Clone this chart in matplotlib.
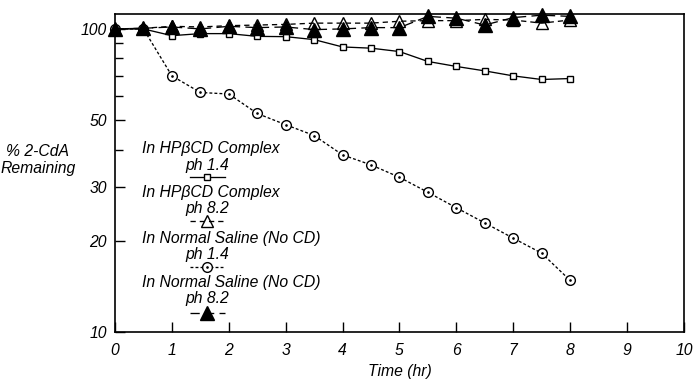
import matplotlib
matplotlib.use('Agg')
import matplotlib.pyplot as plt
from matplotlib.lines import Line2D
from matplotlib.ticker import FixedLocator, NullFormatter, FixedFormatter

plt.rcParams['font.family'] = ['Liberation Sans', 'DejaVu Sans']
plt.rcParams['font.style'] = 'italic'
plt.rcParams['font.size'] = 11.3

# data (time in hr, % 2-CdA remaining)
hours = [0, 0.5, 1, 1.5, 2, 2.5, 3, 3.5, 4, 4.5, 5, 5.5, 6, 6.5, 7, 7.5, 8]
cd_ph14 = [100, 100, 95, 96.5, 96.5, 94.5, 94.3, 92.2, 87.2, 86.4, 84.2, 78.1, 75.2, 72.7, 70.0, 68.1, 68.6]
cd_ph82 = [100, 100.5, 102, 101.5, 102.5, 103, 103.5, 104.5, 104.5, 104.5, 106, 106.5, 106.5, 107.5, 107, 104.5, 107]
saline_ph14 = [100, 100, 70, 61.7, 61, 52.6, 48.3, 44.5, 38.4, 35.6, 32.4, 28.9, 25.7, 22.9, 20.4, 18.2, 14.8]
saline_ph82 = [100, 100.5, 101.5, 100, 102, 101, 101.5, 99.5, 100, 101, 101, 110, 108.5, 103, 109, 111, 110]

labels = [
    ("In HP\u03b2CD Complex", "ph 1.4"),
    ("In HP\u03b2CD Complex", "ph 8.2"),
    ("In Normal Saline (No CD)", "ph 1.4"),
    ("In Normal Saline (No CD)", "ph 8.2"),
]
yticks_major = [10, 20, 30, 50, 100]
yticks_minor = [40, 60, 70, 80, 90]

styles = [
    dict(ls='-', marker='s', ms=5, mfc='white', mec='black', zorder=2),
    dict(ls=(0, (4, 3)), marker='^', ms=8.5, mfc='none', mec='black', zorder=4),
    dict(ls=(0, (2.2, 1.6)), marker='o', ms=7, mfc='white', mec='black', zorder=2.5),
    dict(ls=(0, (7, 4)), marker='^', ms=9.5, mfc='black', mec='black', zorder=3),
]
series = [cd_ph14, cd_ph82, saline_ph14, saline_ph82]

fig = plt.figure(figsize=(7, 3.87), dpi=100)
ax = fig.add_axes([0.1643, 0.1421, 0.8127, 0.8217])

for vals, st in zip(series, styles):
    ax.plot(hours, vals, color='black', lw=0.95, mew=1.0, clip_on=False, **st)
# centre dots of the circle markers
ax.plot(hours[2:], saline_ph14[2:], ls='none', marker='.', ms=1.8, color='black', zorder=2.6)

ax.set_yscale('log')
ax.set_ylim(10, 112)
ax.set_xlim(0, 10)
ax.yaxis.set_major_locator(FixedLocator(yticks_major))
ax.yaxis.set_major_formatter(FixedFormatter([str(v) for v in yticks_major]))
ax.yaxis.set_minor_locator(FixedLocator(yticks_minor))
ax.yaxis.set_minor_formatter(NullFormatter())
ax.set_xticks(range(0, 11))

ax.tick_params(which='both', direction='in', top=False, right=False, width=1.0)
ax.tick_params(axis='x', which='major', length=7, pad=8)
ax.tick_params(axis='y', which='major', length=7, pad=6)
ax.tick_params(axis='y', which='minor', length=6)
for s in ax.spines.values():
    s.set_linewidth(1.2)

ax.set_xlabel("Time (hr)", labelpad=4)
fig.text(38 / 700, 1 - 160 / 387, "% 2-CdA\nRemaining", ha='center', va='center',
         multialignment='center')

# custom legend: text above each key
blocks = [(148, 165, 177), (192.7, 208, 220.7), (238, 254, 267), (282.7, 298, 313)]
to_ax = lambda py: (332 - py) / 318
for (l1, l2), (p1, p2, ph), st in zip(labels, blocks, styles):
    ax.text(0.0475, to_ax(p1), l1, transform=ax.transAxes, va='center', ha='left')
    ax.text(0.123, to_ax(p2), l2, transform=ax.transAxes, va='center', ha='left')
    y = to_ax(ph)
    key = Line2D([0.131, 0.194], [y, y], transform=ax.transAxes, color='black', lw=0.95,
                 ls=st['ls'], clip_on=False)
    ax.add_line(key)
    mk = Line2D([0.1625], [y], transform=ax.transAxes, color='black', ls='none',
                marker=st['marker'], ms=st['ms'], mfc=st['mfc'], mec='black', mew=1.0)
    ax.add_line(mk)
    if st['marker'] == 'o':
        ax.add_line(Line2D([0.1625], [y], transform=ax.transAxes, ls='none', marker='.',
                           ms=1.8, color='black'))

fig.savefig('out.png', dpi=100, facecolor='white')
